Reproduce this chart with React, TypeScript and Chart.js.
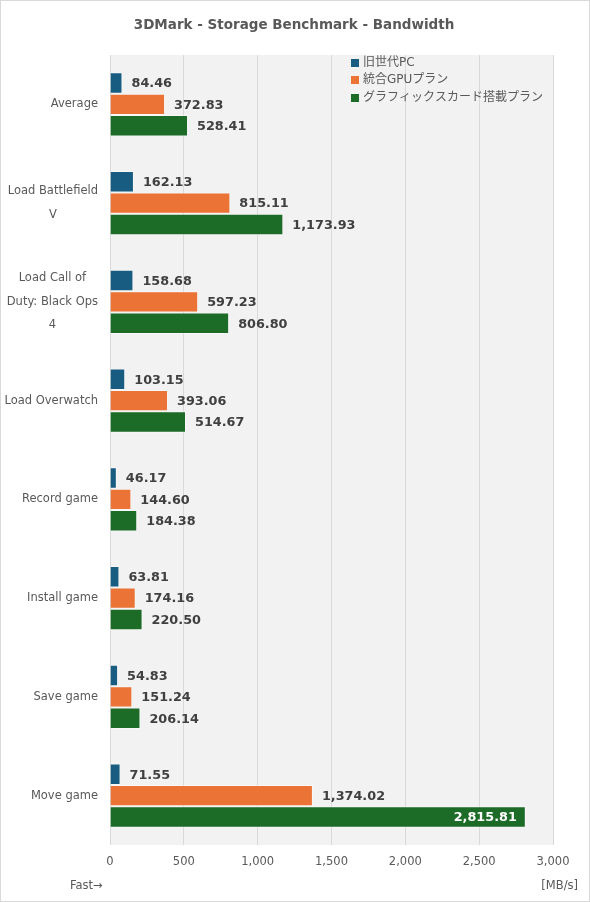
import React, { useEffect, useRef } from 'react'
import { Chart, registerables } from 'chart.js'

Chart.register(...registerables)

const categories = [
  'Average',
  ['Load Battlefield', 'V'],
  ['Load Call of', 'Duty: Black Ops', '4'],
  'Load Overwatch',
  'Record game',
  'Install game',
  'Save game',
  'Move game',
]
const seriesNames = ['旧世代PC', '統合GPUプラン', 'グラフィックスカード搭載プラン']
const oldPc = [84.46, 162.13, 158.68, 103.15, 46.17, 63.81, 54.83, 71.55]
const integratedGpu = [372.83, 815.11, 597.23, 393.06, 144.6, 174.16, 151.24, 1374.02]
const graphicsCard = [528.41, 1173.93, 806.8, 514.67, 184.38, 220.5, 206.14, 2815.81]
const colors = ['#185d81', '#ea7335', '#1c6b26']

const FONT = "'DejaVu Sans', 'Noto Sans CJK JP', sans-serif"
const TEXT = '#595959'

const fmt = (v: number) =>
  v.toLocaleString('en-US', { minimumFractionDigits: 2, maximumFractionDigits: 2 })

const decorPlugin = {
  id: 'decor',
  beforeDraw(chart: any) {
    const { ctx, chartArea } = chart
    ctx.save()
    ctx.fillStyle = '#ffffff'
    ctx.fillRect(0, 0, chart.width, chart.height)
    ctx.fillStyle = '#f2f2f2'
    ctx.fillRect(chartArea.left, chartArea.top, chartArea.right - chartArea.left, chartArea.bottom - chartArea.top)
    ctx.restore()
  },
  afterDatasetsDraw(chart: any) {
    const { ctx, chartArea } = chart
    ctx.save()
    ctx.font = `bold 12.8px ${FONT}`
    ctx.textBaseline = 'middle'
    chart.data.datasets.forEach((ds: any, i: number) => {
      const meta = chart.getDatasetMeta(i)
      meta.data.forEach((bar: any, j: number) => {
        const text = fmt(ds.data[j])
        const w = ctx.measureText(text).width
        if (bar.x + 9 + w > chartArea.right - 5) {
          ctx.fillStyle = '#ffffff'
          ctx.textAlign = 'right'
          ctx.fillText(text, bar.x - 9, bar.y + 1)
        } else {
          ctx.fillStyle = '#404040'
          ctx.textAlign = 'left'
          ctx.fillText(text, bar.x + 9, bar.y + 1)
        }
      })
    })
    ctx.restore()
  },
  afterDraw(chart: any) {
    const { ctx } = chart
    ctx.save()
    // category labels: block right-aligned, lines centred inside the block
    const yScale = chart.scales.y
    ctx.fillStyle = TEXT
    ctx.font = `11.5px ${FONT}`
    ctx.textAlign = 'center'
    ctx.textBaseline = 'middle'
    categories.forEach((cat, i) => {
      const lines = Array.isArray(cat) ? cat : [cat]
      const maxW = Math.max(...lines.map((l) => ctx.measureText(l).width))
      const cx = 98 - maxW / 2
      const cy = yScale.getPixelForValue(i)
      const lh = 23.5
      lines.forEach((l, k) => {
        ctx.fillText(l, cx, cy + (k - (lines.length - 1) / 2) * lh)
      })
    })
    // title
    ctx.font = `bold 13.5px ${FONT}`
    ctx.fillText('3DMark - Storage Benchmark - Bandwidth', 294, 25)
    // legend
    ctx.font = `12px ${FONT}`
    ctx.textAlign = 'left'
    const rows = [63, 80, 98]
    seriesNames.forEach((name, i) => {
      ctx.fillStyle = colors[i]
      ctx.fillRect(351, rows[i] - 4, 8, 8)
      ctx.fillStyle = TEXT
      ctx.fillText(name, 363, rows[i])
    })
    // footer
    ctx.font = `11.5px ${FONT}`
    ctx.fillText('Fast→', 70, 886)
    ctx.textAlign = 'right'
    ctx.fillText('[MB/s]', 578, 886)
    // frame
    ctx.strokeStyle = '#d9d9d9'
    ctx.lineWidth = 1
    ctx.strokeRect(0.5, 0.5, chart.width - 1, chart.height - 1)
    ctx.restore()
  },
}

export default function App() {
  const canvasRef = useRef<HTMLCanvasElement | null>(null)
  const chartRef = useRef<Chart | null>(null)

  useEffect(() => {
    document.body.style.margin = '0'
    if (!canvasRef.current) return
    const ctx = canvasRef.current.getContext('2d')
    if (!ctx) return
    if (chartRef.current) chartRef.current.destroy()

    const series = [oldPc, integratedGpu, graphicsCard]
    chartRef.current = new Chart(ctx, {
      type: 'bar',
      data: {
        labels: categories as any,
        datasets: series.map((data, i) => ({
          label: seriesNames[i],
          data,
          backgroundColor: colors[i],
          borderColor: 'rgba(255,255,255,0.45)',
          borderWidth: 1,
          categoryPercentage: 0.65,
          barPercentage: 1,
        })),
      },
      options: {
        indexAxis: 'y',
        animation: false,
        responsive: true,
        maintainAspectRatio: false,
        layout: { padding: { top: 55, right: 37, left: 0, bottom: 0 } },
        plugins: {
          legend: { display: false },
          tooltip: { enabled: false },
          title: { display: false },
        },
        scales: {
          x: {
            min: 0,
            max: 3000,
            ticks: {
              stepSize: 500,
              color: TEXT,
              font: { family: FONT, size: 11.5 },
              padding: 10,
            },
            grid: { color: '#d9d9d9', drawTicks: false },
            border: { display: false },
            afterFit: (scale: any) => {
              scale.height = 57
            },
          },
          y: {
            ticks: { display: false },
            grid: { display: false, drawTicks: false },
            border: { display: false },
            afterFit: (scale: any) => {
              scale.width = 110
            },
          },
        },
      },
      plugins: [decorPlugin],
    } as any)

    return () => {
      if (chartRef.current) {
        chartRef.current.destroy()
        chartRef.current = null
      }
    }
  }, [])

  return (
    <div style={{ width: 590, height: 902, position: 'relative' }}>
      <canvas ref={canvasRef} />
    </div>
  )
}
